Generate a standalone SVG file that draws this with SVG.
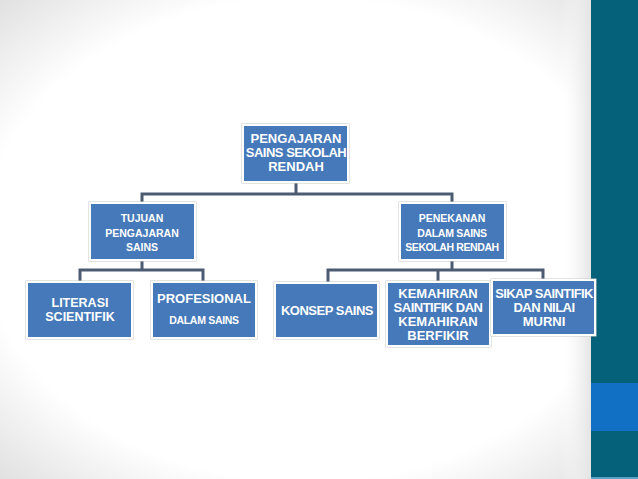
<svg xmlns="http://www.w3.org/2000/svg" width="638" height="479" viewBox="0 0 638 479">
<defs>
<radialGradient id="bg" cx="48%" cy="50%" r="72%">
<stop offset="0" stop-color="#ffffff"/>
<stop offset="0.7" stop-color="#ffffff"/>
<stop offset="1" stop-color="#dcdcdc"/>
</radialGradient>
<linearGradient id="edge" x1="0" y1="0" x2="1" y2="0">
<stop offset="0" stop-color="#ffffff" stop-opacity="0"/>
<stop offset="1" stop-color="#e4e4e4" stop-opacity="1"/>
</linearGradient>
<style>
.box{fill:#4679b9;stroke:#ffffff;stroke-width:2}
.sh{fill:none;stroke:#c8c8c8;stroke-width:1}
.t{fill:#ffffff;font-family:"Liberation Sans",Arial,sans-serif;font-weight:bold;text-anchor:middle}
.c{fill:none;stroke:#4b5c72;stroke-width:3}
</style>
</defs>
<rect x="0" y="0" width="638" height="479" fill="url(#bg)"/>
<rect x="560" y="0" width="31" height="479" fill="url(#edge)"/>
<rect x="591" y="0" width="47" height="479" fill="#05607a"/>
<rect x="591" y="383" width="47" height="48" fill="#1170c4"/>
<rect x="591" y="477" width="47" height="2" fill="#5aa0c8"/>

<g id="connectors">
<path class="c" d="M296 183 V194 M142 203 V194 H452 V203"/>
<path class="c" d="M142 260 V270 M80 282 V270 H203 V282"/>
<path class="c" d="M452 260 V270 M328 283 V270 H543 V280 M438 270 V282"/>
</g>

<g id="root">
<rect class="sh" x="242" y="124" width="107" height="59"/>
<rect class="box" x="243" y="125" width="105" height="57"/>
<text class="t" font-size="13" x="296" y="143">PENGAJARAN</text>
<text class="t" font-size="13" x="296" y="157" letter-spacing="-0.5">SAINS SEKOLAH</text>
<text class="t" font-size="13" x="296" y="171">RENDAH</text>
</g>

<g id="tujuan">
<rect class="sh" x="89" y="202" width="107" height="59"/>
<rect class="box" x="90" y="203" width="105" height="57"/>
<text class="t" font-size="10.5" x="142" y="222">TUJUAN</text>
<text class="t" font-size="10.5" x="142" y="237">PENGAJARAN</text>
<text class="t" font-size="10.5" x="142" y="251">SAINS</text>
</g>

<g id="penekanan">
<rect class="sh" x="399" y="202" width="107" height="59"/>
<rect class="box" x="400" y="203" width="105" height="57"/>
<text class="t" font-size="10.5" x="452" y="222">PENEKANAN</text>
<text class="t" font-size="10.5" x="452" y="237" letter-spacing="-0.3">DALAM SAINS</text>
<text class="t" font-size="10.5" x="452" y="251" letter-spacing="-0.4">SEKOLAH RENDAH</text>
</g>

<g id="literasi">
<rect class="sh" x="26" y="281" width="107" height="58"/>
<rect class="box" x="27" y="282" width="105" height="56"/>
<text class="t" font-size="12.5" x="80" y="307">LITERASI</text>
<text class="t" font-size="12.5" x="80" y="321">SCIENTIFIK</text>
</g>

<g id="profesional">
<rect class="sh" x="151" y="281" width="106" height="58"/>
<rect class="box" x="152" y="282" width="104" height="56"/>
<text class="t" font-size="13" x="204" y="303">PROFESIONAL</text>
<text class="t" font-size="10.5" x="204" y="324" letter-spacing="-0.3">DALAM SAINS</text>
</g>

<g id="konsep">
<rect class="sh" x="274" y="282" width="105" height="57"/>
<rect class="box" x="275" y="283" width="103" height="55"/>
<text class="t" font-size="13" x="327" y="315" letter-spacing="-0.5">KONSEP SAINS</text>
</g>

<g id="kemahiran">
<rect class="sh" x="386" y="281" width="105" height="66"/>
<rect class="box" x="387" y="282" width="103" height="64"/>
<text class="t" font-size="13" x="438" y="298">KEMAHIRAN</text>
<text class="t" font-size="13" x="438" y="312" letter-spacing="-0.5">SAINTIFIK DAN</text>
<text class="t" font-size="13" x="438" y="326">KEMAHIRAN</text>
<text class="t" font-size="13" x="438" y="340">BERFIKIR</text>
</g>

<g id="sikap">
<rect class="sh" x="491" y="279" width="105" height="57"/>
<rect class="box" x="492" y="280" width="103" height="55"/>
<text class="t" font-size="13" x="544" y="298" letter-spacing="-0.6">SIKAP SAINTIFIK</text>
<text class="t" font-size="13" x="544" y="312" letter-spacing="-0.5">DAN NILAI</text>
<text class="t" font-size="13" x="544" y="326">MURNI</text>
</g>
</svg>
